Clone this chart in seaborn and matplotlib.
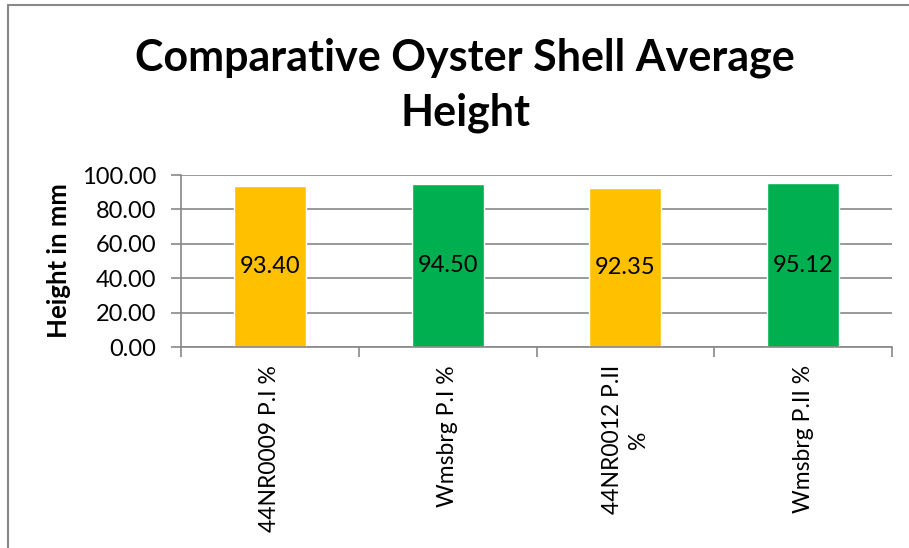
import matplotlib
matplotlib.use("Agg")
import matplotlib.pyplot as plt
import seaborn as sns
import pandas as pd
from matplotlib.lines import Line2D
from matplotlib.ticker import FixedLocator

categories = ["44NR0009 P.I %", "Wmsbrg P.I %", "44NR0012 P.II\n%", "Wmsbrg P.II %"]
heights = [93.40, 94.50, 92.35, 95.12]
colors = ["#FFC000", "#00B050", "#FFC000", "#00B050"]
yticks = [0, 20, 40, 60, 80, 100]

sns.set_theme(style="white")
plt.rcParams["font.family"] = ["Lato", "DejaVu Sans"]
plt.rcParams["text.color"] = "black"
plt.rcParams["xtick.color"] = "black"
plt.rcParams["ytick.color"] = "black"
plt.rcParams["axes.labelcolor"] = "black"

df = pd.DataFrame({"cat": categories, "h": heights})

W, H = 909, 548
fig = plt.figure(figsize=(W / 100, H / 100), dpi=100)
ax = fig.add_axes([181 / W, 1 - 347 / H, (892 - 181) / W, (347 - 175) / H])

sns.barplot(data=df, x="cat", y="h", hue="cat", palette=colors, width=0.405,
            legend=False, ax=ax, saturation=1)

ax.set_ylim(0, 100)
ax.set_xlim(-0.5, 3.5)
ax.set_yticks(yticks)
ax.set_yticklabels([f"{v:.2f}" for v in yticks], fontsize=17)
ax.yaxis.grid(True, color="#888888", linewidth=1.2)
ax.set_axisbelow(True)
for s in ["top", "right"]:
    ax.spines[s].set_visible(False)
for s in ["left", "bottom"]:
    ax.spines[s].set_color("#888888")
    ax.spines[s].set_linewidth(1.2)
ax.tick_params(axis="y", length=7, width=1.2, color="#888888", left=True, pad=11,
               labelcolor="black")
ax.tick_params(axis="x", which="major", length=0, pad=13, labelcolor="black")
ax.xaxis.set_minor_locator(FixedLocator([-0.5, 0.5, 1.5, 2.5, 3.5]))
ax.tick_params(axis="x", which="minor", length=7, width=1.2, color="#888888", bottom=True)
ax.set_xticks(range(len(categories)))
ax.set_xticklabels(categories, rotation=90, fontsize=16.5, va="top", ha="center",
                   multialignment="center", linespacing=1.3)
ax.set_xlabel("")
ax.set_ylabel("Height in mm", fontsize=18.5, fontweight="bold", labelpad=8, color="black")

for i, v in enumerate(heights):
    ax.text(i, v / 2, f"{v:.2f}", ha="center", va="center", fontsize=17, color="black")

fig.text(465 / W, 1 - 37 / H, "Comparative Oyster Shell Average\nHeight",
         ha="center", va="top", fontsize=31, fontweight="bold", linespacing=1.45,
         color="black")

fig.add_artist(Line2D([8 / W, 8 / W], [0, 1 - 5 / H], color="#888888", linewidth=1.5,
                      transform=fig.transFigure))
fig.add_artist(Line2D([8 / W, 1], [1 - 5 / H, 1 - 5 / H], color="#888888", linewidth=1.5,
                      transform=fig.transFigure))

fig.savefig("out.png", dpi=100)
